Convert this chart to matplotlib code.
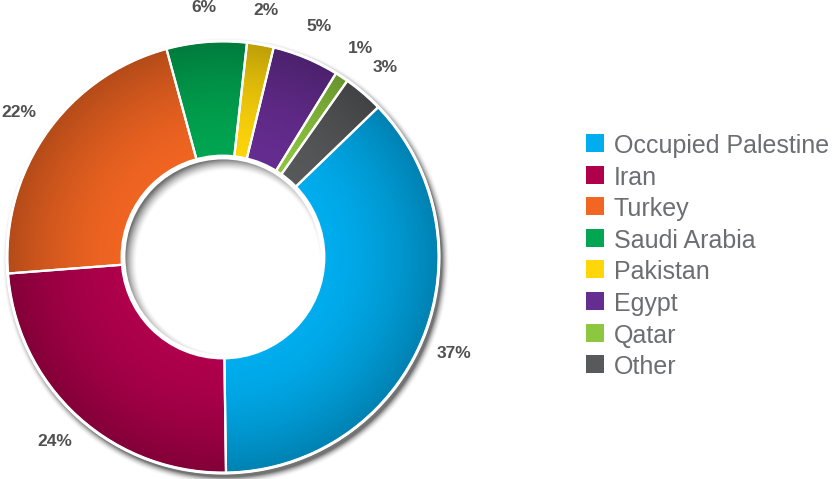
import numpy as np
import matplotlib
matplotlib.use("Agg")
import matplotlib.pyplot as plt
from matplotlib.patches import Circle, Rectangle
from matplotlib.colors import to_rgb

categories = ["Occupied Palestine", "Iran", "Turkey", "Saudi Arabia",
              "Pakistan", "Egypt", "Qatar", "Other"]
shares = [37, 24, 22, 6, 2, 5, 1, 3]
pct_labels = [f"{v}%" for v in shares]
colors = ["#00aeef", "#b0004c", "#f26522", "#00a651",
          "#ffd60a", "#662d91", "#8dc63f", "#58595b"]

W, H = 833, 479
fig = plt.figure(figsize=(W / 100, H / 100), dpi=100)
ax = fig.add_axes([0, 0, 1, 1])

cx, cy = 223, 222
R, r_in = 216, 100

# pixel-centre grid for the shading images
yy, xx = np.mgrid[0:H, 0:W] + 0.5

# soft drop shadow under the ring
ds = np.hypot(xx - (cx + 3), yy - (cy - 4))
sh_a = 0.55 * np.clip(1 - (ds - R) / 8.0, 0, 1) ** 2
shadow = np.zeros((H, W, 4))
shadow[..., 3] = sh_a
ax.imshow(shadow, extent=(0, W, 0, H), origin="lower", zorder=0.2,
          interpolation="bilinear")

wedges, _ = ax.pie(shares, colors=colors, startangle=44, counterclock=False,
                   radius=R, center=(cx, cy),
                   wedgeprops=dict(width=R - r_in, edgecolor="white",
                                   linewidth=1.6))

# radial shading: darker towards the outer rim
d = np.hypot(xx - cx, yy - cy)
t = np.clip((d - 0.42 * R) / (0.58 * R), 0, 1)
shade = 1 - 0.26 * t ** 1.7
for w, c in zip(wedges, colors):
    base = np.array(to_rgb(c))
    img = np.clip(base[None, None, :] * shade[..., None], 0, 1)
    im = ax.imshow(img, extent=(0, W, 0, H), origin="lower", zorder=0.5,
                   interpolation="bilinear")
    im.set_clip_path(w)
    w.set_facecolor("none")
    w.set_zorder(1)

# outer white rim
ax.add_patch(Circle((cx, cy), R, fill=False, ec="white", lw=2.2, zorder=3))

# hole with inner shadow along the upper-left edge
hole = Circle((cx, cy), r_in, fc="white", ec="none", zorder=2)
ax.add_patch(hole)
dh = np.hypot(xx - (cx + 5), yy - (cy - 5))
s = np.clip((dh - (r_in - 9)) / 12.0, 0, 1)
inner = np.zeros((H, W, 4))
inner[..., 3] = 0.55 * s ** 1.5
im = ax.imshow(inner, extent=(0, W, 0, H), origin="lower", zorder=2.5,
               interpolation="bilinear")
im.set_clip_path(hole)
ax.add_patch(Circle((cx, cy), r_in, fill=False, ec="white", lw=3.5, zorder=3))

# percentage labels around the ring
for w, lab in zip(wedges, pct_labels):
    th = np.deg2rad((w.theta1 + w.theta2) / 2)
    ax.text(cx + 250 * np.cos(th), cy + 250 * np.sin(th), lab,
            ha="center", va="center", fontsize=12.5, fontweight="bold",
            color="#505050", family="Liberation Sans", zorder=5)

# legend
for i, (name, c) in enumerate(zip(categories, colors)):
    top = 134 + i * 31.6
    ax.add_patch(Rectangle((586, H - top - 18), 18, 18, fc=c, ec="none",
                           zorder=5))
    ax.text(614, H - top - 19, name, ha="left", va="baseline", fontsize=18,
            color="#6d6e71", family="Liberation Sans", zorder=5)

ax.set_xlim(0, W)
ax.set_ylim(0, H)
ax.set_aspect("equal")
ax.axis("off")
fig.savefig("out.png", dpi=100, facecolor="white")
